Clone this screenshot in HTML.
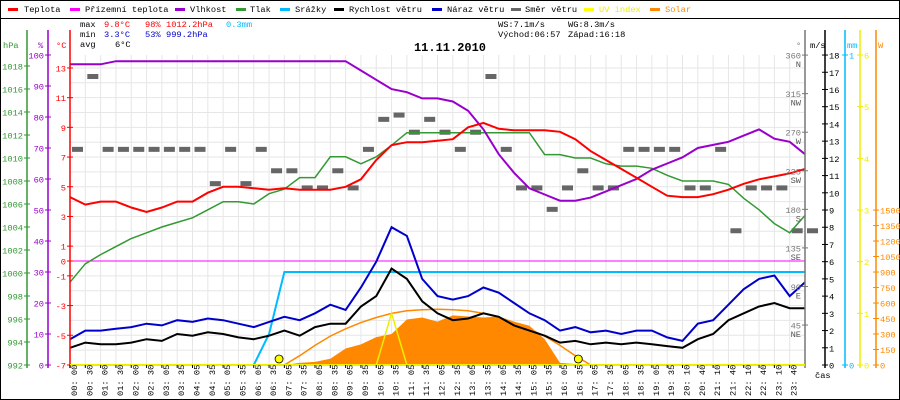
<!DOCTYPE html>
<html><head><meta charset="utf-8">
<style>
html,body{margin:0;padding:0;background:#fff;}
svg{display:block;font-family:"Liberation Mono","DejaVu Sans Mono",monospace;}
</style></head>
<body>
<svg id="chart" width="900" height="400" viewBox="0 0 900 400" xmlns="http://www.w3.org/2000/svg">
<rect x="0.5" y="0.5" width="899" height="399" fill="#fff" stroke="#000"/>
<line x1="0" y1="18.5" x2="900" y2="18.5" stroke="#000"/>
<g id="legend" font-size="8.7">
<g><rect x="8" y="8" width="10" height="3" fill="#f00"/><text x="24" y="12">Teplota</text></g>
<g><rect x="70" y="8" width="10" height="3" fill="#f0f"/><text x="85" y="12">Přízemní teplota</text></g>
<g><rect x="175" y="8" width="10" height="3" fill="#90c"/><text x="190" y="12">Vlhkost</text></g>
<g><rect x="236" y="8" width="10" height="3" fill="#393"/><text x="250" y="12">Tlak</text></g>
<g><rect x="280" y="8" width="10" height="3" fill="#0bf"/><text x="295" y="12">Srážky</text></g>
<g><rect x="334" y="8" width="10" height="3" fill="#000"/><text x="349" y="12">Rychlost větru</text></g>
<g><rect x="432" y="8" width="10" height="3" fill="#00c"/><text x="447" y="12">Náraz větru</text></g>
<g><rect x="511" y="8" width="10" height="3" fill="#666"/><text x="525" y="12">Směr větru</text></g>
<g><rect x="584" y="8" width="10" height="3" fill="#ff0"/><text x="599" y="12" fill="#ee0">UV index</text></g>
<g><rect x="650" y="8" width="10" height="3" fill="#f80"/><text x="665" y="12" fill="#f80">Solar</text></g>
</g>
<g font-size="8.7">
<text x="80" y="27">max</text><text x="104" y="27" fill="#f00">9.8°C</text><text x="145" y="27" fill="#f00">98%</text><text x="166" y="27" fill="#f00">1012.2hPa</text><text x="226" y="27" fill="#0bf">0.3mm</text>
<text x="80" y="37">min</text><text x="104" y="37" fill="#00c">3.3°C</text><text x="145" y="37" fill="#00c">53%</text><text x="166" y="37" fill="#00c">999.2hPa</text>
<text x="80" y="47">avg</text><text x="115" y="47">6°C</text>
<text x="498" y="27">WS:7.1m/s</text><text x="568" y="27">WG:8.3m/s</text>
<text x="498" y="37">Východ:06:57</text><text x="568" y="37">Západ:16:18</text>
</g>
<text x="450" y="51" font-size="12" font-weight="bold" text-anchor="middle">11.11.2010</text>
<g id="grid"></g>
<g id="series"></g>
<g id="axes"></g>
</svg>
<script>
const timeLabels=["00:00","00:30","01:00","01:30","02:00","02:30","03:05","03:35","04:05","04:35","05:05","05:35","06:05","06:35","07:05","07:35","08:05","08:35","09:05","09:35","10:05","10:35","11:05","11:35","12:05","12:35","13:05","13:35","14:05","14:35","15:05","15:35","16:05","16:35","17:05","17:35","18:05","18:35","19:05","19:35","20:10","20:40","21:10","21:40","22:10","22:40","23:10","23:40"];
const temperature=[4.3,3.8,4.0,4.0,3.6,3.3,3.6,4.0,4.0,4.6,5.0,5.0,4.9,4.8,4.9,4.8,4.8,4.8,5.0,5.5,6.8,7.8,8.0,8.0,8.1,8.2,9.0,9.3,8.9,8.8,8.8,8.8,8.7,8.2,7.4,6.8,6.2,5.6,5.0,4.4,4.3,4.3,4.5,4.8,5.2,5.5,5.7,5.9,6.2];
const humidity=[97,97,97,98,98,98,98,98,98,98,98,98,98,98,98,98,98,98,98,95,92,89,88,86,86,85,82,76,68,62,57,55,53,53,54,56,58,60,63,65,67,70,71,72,74,76,73,72,68];
const pressure=[999.2,1000.8,1001.6,1002.3,1003.0,1003.5,1004.0,1004.4,1004.8,1005.5,1006.2,1006.2,1006.0,1006.9,1007.3,1008.3,1008.3,1010.1,1010.1,1009.5,1010.1,1011.1,1012.2,1012.2,1012.2,1012.2,1012.2,1012.2,1012.2,1012.2,1012.2,1010.3,1010.3,1010.0,1010.0,1009.5,1009.3,1009.3,1009.1,1008.5,1008.0,1008.0,1008.0,1007.7,1006.5,1005.5,1004.3,1003.5,1005.0];
const windSpeed=[1.0,1.3,1.2,1.2,1.3,1.5,1.4,1.8,1.7,1.9,1.8,1.6,1.5,1.7,2.0,1.7,2.2,2.4,2.4,3.4,4.0,5.6,5.0,3.7,3.0,2.6,2.7,3.0,2.8,2.3,2.0,1.7,1.3,1.4,1.2,1.3,1.2,1.3,1.2,1.1,1.0,1.5,1.8,2.6,3.0,3.4,3.6,3.3,3.3];
const windGust=[1.5,2.0,2.0,2.1,2.2,2.4,2.3,2.6,2.5,2.7,2.6,2.4,2.2,2.5,2.8,2.6,3.0,3.5,3.2,4.5,6.0,8.0,7.5,5.0,4.0,3.8,4.0,4.5,4.2,3.6,3.0,2.6,2.0,2.2,1.9,2.0,1.8,2.0,2.0,1.6,1.4,2.4,2.6,3.5,4.4,5.0,5.2,4.0,4.8];
const rain=[0,0,0,0,0,0,0,0,0,0,0,0,0,0.1,0.3,0.3,0.3,0.3,0.3,0.3,0.3,0.3,0.3,0.3,0.3,0.3,0.3,0.3,0.3,0.3,0.3,0.3,0.3,0.3,0.3,0.3,0.3,0.3,0.3,0.3,0.3,0.3,0.3,0.3,0.3,0.3,0.3,0.3,0.3];
const solar=[0,0,0,0,0,0,0,0,0,0,0,0,0,0,0,20,30,60,160,200,270,300,440,460,420,480,470,460,470,420,380,250,20,10,0,0,0,0,0,0,0,0,0,0,0,0,0,0,0];
const solarMax=[0,0,0,0,0,0,0,0,0,0,0,0,0,0,0,90,190,280,350,410,460,500,525,535,540,535,525,500,460,410,350,280,190,90,0,0,0,0,0,0,0,0,0,0,0,0,0,0,0];
const uvIndex=[0,0,0,0,0,0,0,0,0,0,0,0,0,0,0,0,0,0,0,0,0,1,0,0,0,0,0,0,0,0,0,0,0,0,0,0,0,0,0,0,0,0,0,0,0,0,0,0,0];
const windDir=[250,335,250,250,250,250,250,250,250,210,250,210,250,225,225,205,205,225,205,250,285,290,270,285,270,250,270,335,250,205,205,180,205,225,205,205,250,250,250,250,205,205,250,155,205,205,205,155,155];
const tempTicks=[-7,-5,-3,-1,0,1,3,5,7,9,11,13];
const humTicks=[0,10,20,30,40,50,60,70,80,90,100];
const presTicks=[992,994,996,998,1000,1002,1004,1006,1008,1010,1012,1014,1016,1018];
const dirTicks=[[45,"NE"],[90,"E"],[135,"SE"],[180,"S"],[225,"SW"],[270,"W"],[315,"NW"],[360,"N"]];
const msTicks=[0,1,2,3,4,5,6,7,8,9,10,11,12,13,14,15,16,17,18];
const uvTicks=[0,1,2,3,4,5,6];
const wTicks=[0,150,300,450,600,750,900,1050,1200,1350,1500];

const NS="http://www.w3.org/2000/svg";
const X0=70,X1=805,YB=365,YT=55;
const N=timeLabels.length;
const xS=i=>X0+i*(X1-X0)/N;
const yT=v=>261-v*14.85;
const yH=v=>YB-v*3.1;
const yP=v=>YB-(v-992)*11.5;
const yMS=v=>YB-v*17.22;
const yMM=v=>YB-v*310;
const yW=v=>YB-v*0.1033;
const yUV=v=>YB-v*51.67;
const yD=v=>363.6-v*0.857;
function el(tag,attrs,parent,txt){const e=document.createElementNS(NS,tag);for(const k in attrs)e.setAttribute(k,attrs[k]);if(txt!==undefined)e.textContent=txt;parent.appendChild(e);return e;}
const grid=document.getElementById('grid'),ser=document.getElementById('series'),ax=document.getElementById('axes');
for(let i=0;i<=N;i++){const g=el('line',{x1:xS(i),x2:xS(i),y1:YT,y2:YB,stroke:'#e6e6e6'},grid);

}
for(let v=-7;v<=13;v++){const g=el('line',{x1:X0,x2:X1,y1:yT(v),y2:yT(v),stroke:'#e6e6e6'},grid);

}
let pts=[];solar.forEach((v,i)=>pts.push(xS(i)+','+yW(v)));
const sf=el('polygon',{points:xS(0)+','+YB+' '+pts.join(' ')+' '+xS(N)+','+YB,fill:'#f80'},ser);


function line(arr,yf,color,name,w){const p=arr.map((v,i)=>xS(i)+','+yf(v).toFixed(1)).join(' ');const l=el('polyline',{points:p,fill:'none',stroke:color,'stroke-width':w||1.5},ser);

return l;}
line(solarMax,yW,'#f80','solar-max-arc',1.5).setAttribute('points',solarMax.slice(14,35).map((v,k)=>xS(k+14)+','+yW(v).toFixed(1)).join(' '));
windDir.forEach((d,i)=>{const r=el('rect',{x:xS(i)+2,y:yD(d)-2.5,width:11,height:5,fill:'#666'},ser);

});
const gz=el('line',{x1:X0,x2:X1,y1:yT(0),y2:yT(0),stroke:'#f0f'},ser);


line(rain,yMM,'#0bf','rain-line',2);
line(pressure,yP,'#393','pressure-line',1.5);
line(humidity,yH,'#90c','humidity-line',2);
line(temperature,yT,'#f00','temperature-line',2);
line(windGust,yMS,'#00c','wind-gust-line',2);
line(windSpeed,yMS,'#000','wind-speed-line',2);
line(uvIndex,yUV,'#ee0','uv-index-line',1.5);
[[xS(13)+10,'sunrise-marker'],[xS(33)+3,'sunset-marker']].forEach(([cx,n])=>{const c=el('circle',{cx:cx,cy:359,r:4,fill:'#ff0',stroke:'#000','stroke-width':0.8},ser);

});
function vaxis(x,color,ticks,yf,fmt,side,name){const a=el('line',{x1:x,x2:x,y1:YT-25,y2:YB+3,stroke:color,'stroke-width':1.5},ax);


ticks.forEach(t=>{const v=Array.isArray(t)?t[0]:t;const y=yf(v);el('line',{x1:x-3,x2:x+3,y1:y,y2:y,stroke:color},ax);
const tx=el('text',{x:side<0?x-4:x+4,y:y+3.5,fill:color,'font-size':8.7,'text-anchor':side<0?'end':'start'},ax,fmt(t));

});}
vaxis(27,'#393',presTicks,yP,t=>t,-1,'pressure-axis');
vaxis(48,'#90c',humTicks,yH,t=>t,-1,'humidity-axis');
vaxis(70,'#f00',tempTicks,yT,t=>t,-1,'temperature-axis');
vaxis(805,'#777',dirTicks,yD,t=>t[0],-1,'direction-axis');
dirTicks.forEach(t=>{const tx=el('text',{x:801,y:yD(t[0])+12,fill:'#555','font-size':8.7,'text-anchor':'end'},ax,t[1]);

});
vaxis(825,'#000',msTicks,yMS,t=>t,1,'wind-speed-axis');
vaxis(845,'#0bf',[0,1],yMM,t=>t,1,'rain-axis');
vaxis(860,'#ee0',uvTicks,yUV,t=>t,1,'uv-axis');
vaxis(876,'#f80',wTicks,yW,t=>t,1,'solar-axis');
[[3,'hPa','#393'],[38,'%','#90c'],[56,'°C','#f00'],[796,'°','#777'],[810,'m/s','#000'],[847,'mm','#0bf'],[878,'W','#f80']].forEach(([x,t,c])=>{const tx=el('text',{x:x,y:48,fill:c,'font-size':8.7},ax,t);

});
const xa=el('line',{x1:X0,x2:X1,y1:YB,y2:YB,stroke:'#ee0','stroke-width':2},ax);


timeLabels.forEach((t,i)=>{const x=xS(i)+4;const tx=el('text',{x:0,y:0,'font-size':8.7,transform:`translate(${x+3},396) rotate(-90)`},ax,t.replace(':',': '));


el('line',{x1:xS(i),x2:xS(i),y1:YB,y2:YB+3,stroke:'#000'},ax);});
const cas=el('text',{x:815,y:378,'font-size':8.7},ax,'čas');


</script>
</body></html>
